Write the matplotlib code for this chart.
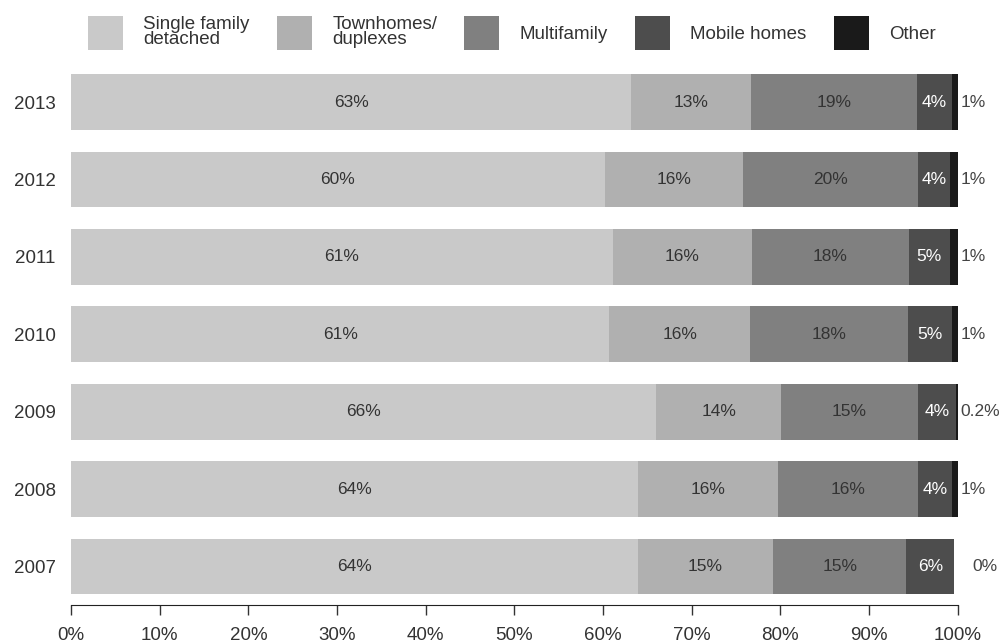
import numpy as np
import matplotlib
matplotlib.use('Agg')
import matplotlib.pyplot as plt
from matplotlib.patches import Patch

plt.rcParams['font.family'] = ['Liberation Sans', 'DejaVu Sans']

years = ['2013', '2012', '2011', '2010', '2009', '2008', '2007']
categories = ['Single family\ndetached', 'Townhomes/\nduplexes', 'Multifamily', 'Mobile homes', 'Other']

single = [63.2, 60.2, 61.1, 60.7, 66.0, 63.9, 63.9]
town = [13.5, 15.6, 15.7, 15.9, 14.1, 15.8, 15.3]
multi = [18.7, 19.7, 17.7, 17.8, 15.4, 15.8, 15.0]
mobile = [4.0, 3.6, 4.6, 5.0, 4.3, 3.9, 5.4]
other = [0.6, 0.9, 0.9, 0.6, 0.2, 0.6, 0.0]

single_lbl = ['63%', '60%', '61%', '61%', '66%', '64%', '64%']
town_lbl = ['13%', '16%', '16%', '16%', '14%', '16%', '15%']
multi_lbl = ['19%', '20%', '18%', '18%', '15%', '16%', '15%']
mobile_lbl = ['4%', '4%', '5%', '5%', '4%', '4%', '6%']
other_lbl = ['1%', '1%', '1%', '1%', '0.2%', '1%', '0%']

series = [single, town, multi, mobile, other]
labels = [single_lbl, town_lbl, multi_lbl, mobile_lbl, other_lbl]
colors = ['#c9c9c9', '#b0b0b0', '#808080', '#4d4d4d', '#1a1a1a']
text_colors = ['#333333', '#333333', '#333333', 'white', '#444444']

fig = plt.figure(figsize=(10, 6.42), dpi=100)
ax = fig.add_axes([0.071, 0.0584, 0.8867, 0.849])

y = np.arange(len(years))[::-1]
left = np.zeros(len(years))
for i, (vals, lbls) in enumerate(zip(series, labels)):
    bars = ax.barh(y, vals, left=left, height=0.72, color=colors[i], edgecolor='none')
    if i < 4:
        ax.bar_label(bars, labels=lbls, label_type='center', color=text_colors[i], fontsize=12.5)
    left += np.array(vals)

# "Other" labels sit just outside the bar end (further out when the segment is empty)
for yy, end, v, lbl in zip(y, left, other, other_lbl):
    ax.annotate(lbl, xy=(end, yy), xytext=(2 if v > 0 else 13, 0), textcoords='offset points',
                ha='left', va='center', fontsize=12.5, color=text_colors[4])

ax.set_xlim(0, 100)
ax.set_ylim(-0.49, 6.55)
ax.set_yticks(y)
ax.set_yticklabels(years, fontsize=13.5, color='#333333')
ax.tick_params(axis='y', length=0, pad=11)
ax.set_xticks(np.arange(0, 101, 10))
ax.set_xticklabels([f'{v}%' for v in range(0, 101, 10)], fontsize=13.5, color='#333333')
ax.tick_params(axis='x', length=7, width=1, color='#333333', pad=9)
for s in ['top', 'right', 'left']:
    ax.spines[s].set_visible(False)
ax.spines['bottom'].set_bounds(0, 100)
ax.spines['bottom'].set_color('#222222')

handles = [Patch(facecolor=c, edgecolor='none') for c in colors]
leg = fig.legend(handles, categories, ncol=5, loc='center left', bbox_to_anchor=(0.088, 0.949),
                 frameon=False, fontsize=13.5, handlelength=1.85, handleheight=2.4,
                 handletextpad=1.1, columnspacing=1.45, borderpad=0, borderaxespad=0)
for t in leg.get_texts():
    t.set_linespacing(0.9)
    t.set_color('#333333')

fig.savefig('out.png', dpi=100)
